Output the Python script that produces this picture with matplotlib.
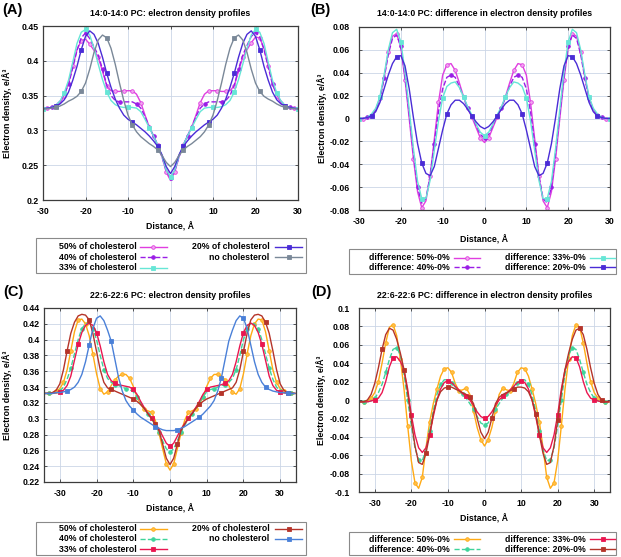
import numpy as np
import matplotlib
matplotlib.use("Agg")
import matplotlib.pyplot as plt
from matplotlib.lines import Line2D
from matplotlib.patches import Rectangle
from matplotlib.ticker import FuncFormatter, MultipleLocator

plt.rcParams['font.family'] = ['Liberation Sans', 'DejaVu Sans']
plt.rcParams['font.weight'] = 'bold'
plt.rcParams['axes.unicode_minus'] = False

# ---------------- data ----------------
x_ab = np.arange(-30, 31)   # distance grid, panels A/B (Angstrom)
x_cd = np.arange(-34, 35)   # distance grid, panels C/D (Angstrom)

# Panel A: 14:0-14:0 PC electron density
a_50 = [0.331, 0.332, 0.333, 0.335, 0.339, 0.350, 0.368, 0.392, 0.416, 0.429, 0.431, 0.424, 0.415, 0.405, 0.385, 0.364,
        0.357, 0.356, 0.356, 0.357, 0.357, 0.357, 0.352, 0.340, 0.322, 0.305, 0.292, 0.279, 0.262, 0.240, 0.228,
        0.240, 0.262, 0.279, 0.292, 0.305, 0.322, 0.340, 0.352, 0.357, 0.357, 0.357, 0.356, 0.356, 0.357, 0.364,
        0.385, 0.405, 0.416, 0.426, 0.434, 0.433, 0.418, 0.393, 0.368, 0.350, 0.339, 0.335, 0.333, 0.332, 0.331]
a_40 = [0.331, 0.332, 0.333, 0.336, 0.342, 0.352, 0.366, 0.390, 0.415, 0.433, 0.440, 0.432, 0.420, 0.408, 0.388, 0.365,
        0.350, 0.343, 0.341, 0.341, 0.341, 0.341, 0.338, 0.332, 0.320, 0.305, 0.292, 0.279, 0.262, 0.242, 0.232,
        0.242, 0.262, 0.279, 0.292, 0.305, 0.320, 0.332, 0.338, 0.341, 0.341, 0.341, 0.341, 0.343, 0.350, 0.365,
        0.388, 0.408, 0.422, 0.435, 0.441, 0.434, 0.416, 0.391, 0.366, 0.352, 0.342, 0.336, 0.333, 0.332, 0.331]
a_33 = [0.331, 0.332, 0.333, 0.336, 0.342, 0.354, 0.372, 0.398, 0.425, 0.441, 0.445, 0.437, 0.418, 0.395, 0.373, 0.355,
        0.343, 0.337, 0.334, 0.333, 0.333, 0.333, 0.332, 0.327, 0.316, 0.304, 0.292, 0.279, 0.263, 0.243, 0.233,
        0.243, 0.263, 0.279, 0.292, 0.304, 0.316, 0.327, 0.332, 0.333, 0.333, 0.333, 0.334, 0.337, 0.343, 0.355,
        0.373, 0.395, 0.418, 0.437, 0.445, 0.441, 0.425, 0.398, 0.372, 0.354, 0.342, 0.336, 0.333, 0.332, 0.331]
a_20 = [0.331, 0.332, 0.333, 0.335, 0.338, 0.344, 0.355, 0.372, 0.392, 0.416, 0.435, 0.443, 0.438, 0.425, 0.405, 0.382,
        0.362, 0.345, 0.332, 0.322, 0.316, 0.312, 0.308, 0.303, 0.298, 0.292, 0.285, 0.277, 0.265, 0.248, 0.238,
        0.248, 0.265, 0.277, 0.285, 0.292, 0.298, 0.303, 0.308, 0.312, 0.316, 0.322, 0.332, 0.345, 0.362, 0.382,
        0.405, 0.425, 0.438, 0.443, 0.435, 0.416, 0.392, 0.372, 0.355, 0.344, 0.338, 0.335, 0.333, 0.332, 0.331]
a_00 = [0.331, 0.331, 0.332, 0.333, 0.335, 0.338, 0.342, 0.345, 0.349, 0.356, 0.368, 0.388, 0.412, 0.430, 0.437, 0.433,
        0.418, 0.395, 0.368, 0.343, 0.322, 0.308, 0.298, 0.291, 0.286, 0.281, 0.277, 0.272, 0.264, 0.254, 0.248,
        0.254, 0.264, 0.272, 0.277, 0.281, 0.286, 0.291, 0.298, 0.308, 0.322, 0.343, 0.368, 0.395, 0.418, 0.433,
        0.437, 0.430, 0.412, 0.388, 0.368, 0.356, 0.349, 0.345, 0.342, 0.338, 0.335, 0.333, 0.332, 0.331, 0.331]

# Panel B: 14:0-14:0 PC differences
b_50 = [0.000, 0.000, 0.001, 0.003, 0.008, 0.018, 0.036, 0.058, 0.072, 0.074, 0.062, 0.034, 0.000, -0.035, -0.064, -0.078,
        -0.072, -0.050, -0.018, 0.014, 0.038, 0.047, 0.048, 0.042, 0.031, 0.019, 0.009, 0.001, -0.008, -0.017, -0.021,
        -0.017, -0.008, 0.001, 0.009, 0.019, 0.031, 0.042, 0.048, 0.047, 0.038, 0.014, -0.018, -0.050, -0.072, -0.078,
        -0.064, -0.035, 0.000, 0.034, 0.062, 0.074, 0.072, 0.058, 0.036, 0.018, 0.008, 0.003, 0.001, 0.000, 0.000]
b_40 = [0.000, 0.000, 0.001, 0.003, 0.007, 0.017, 0.035, 0.056, 0.070, 0.073, 0.063, 0.037, 0.004, -0.030, -0.060, -0.074,
        -0.070, -0.050, -0.022, 0.006, 0.026, 0.036, 0.038, 0.036, 0.028, 0.018, 0.009, 0.002, -0.006, -0.014, -0.017,
        -0.014, -0.006, 0.002, 0.009, 0.018, 0.028, 0.036, 0.038, 0.036, 0.026, 0.006, -0.022, -0.050, -0.070, -0.074,
        -0.060, -0.030, 0.004, 0.037, 0.063, 0.073, 0.070, 0.056, 0.035, 0.017, 0.007, 0.003, 0.001, 0.000, 0.000]
b_33 = [0.000, 0.000, 0.001, 0.004, 0.009, 0.019, 0.038, 0.060, 0.075, 0.078, 0.067, 0.041, 0.008, -0.026, -0.055, -0.070,
        -0.070, -0.054, -0.028, -0.002, 0.018, 0.028, 0.031, 0.032, 0.027, 0.019, 0.010, 0.003, -0.005, -0.012, -0.015,
        -0.012, -0.005, 0.003, 0.010, 0.019, 0.027, 0.032, 0.031, 0.028, 0.018, -0.002, -0.028, -0.054, -0.070, -0.070,
        -0.055, -0.026, 0.008, 0.041, 0.067, 0.078, 0.075, 0.060, 0.038, 0.019, 0.009, 0.004, 0.001, 0.000, 0.000]
b_20 = [0.000, 0.000, 0.001, 0.002, 0.006, 0.014, 0.026, 0.038, 0.048, 0.054, 0.055, 0.046, 0.026, 0.001, -0.022, -0.039,
        -0.048, -0.050, -0.042, -0.026, -0.010, 0.004, 0.012, 0.016, 0.016, 0.013, 0.008, 0.002, -0.003, -0.007, -0.009,
        -0.007, -0.003, 0.002, 0.008, 0.013, 0.016, 0.016, 0.012, 0.004, -0.010, -0.026, -0.042, -0.050, -0.048, -0.039,
        -0.022, 0.001, 0.026, 0.046, 0.055, 0.054, 0.048, 0.038, 0.026, 0.014, 0.006, 0.002, 0.001, 0.000, 0.000]

# Panel C: 22:6-22:6 PC electron density
c_50 = [0.332, 0.332, 0.333, 0.335, 0.338, 0.346, 0.362, 0.386, 0.410, 0.425, 0.426, 0.420, 0.405, 0.382, 0.357, 0.338,
        0.331, 0.334, 0.342, 0.349, 0.354, 0.356, 0.356, 0.351, 0.341, 0.328, 0.318, 0.312, 0.310, 0.308, 0.298, 0.282,
        0.262, 0.243, 0.235,
        0.243, 0.262, 0.282, 0.298, 0.308, 0.310, 0.312, 0.318, 0.328, 0.341, 0.351, 0.356, 0.356, 0.354, 0.349, 0.342,
        0.334, 0.331, 0.338, 0.357, 0.382, 0.405, 0.420, 0.426, 0.425, 0.410, 0.386, 0.362, 0.346, 0.338, 0.335, 0.333,
        0.332, 0.332]
c_40 = [0.332, 0.332, 0.332, 0.333, 0.335, 0.340, 0.350, 0.364, 0.382, 0.400, 0.414, 0.420, 0.421, 0.414, 0.400, 0.380,
        0.362, 0.351, 0.346, 0.343, 0.342, 0.340, 0.338, 0.337, 0.334, 0.328, 0.320, 0.313, 0.306, 0.300, 0.292, 0.283,
        0.272, 0.262, 0.258,
        0.262, 0.272, 0.283, 0.292, 0.300, 0.306, 0.313, 0.320, 0.328, 0.334, 0.337, 0.338, 0.340, 0.342, 0.343, 0.346,
        0.351, 0.362, 0.380, 0.400, 0.414, 0.421, 0.420, 0.414, 0.400, 0.382, 0.364, 0.350, 0.340, 0.335, 0.333, 0.332,
        0.332, 0.332]
c_33 = [0.332, 0.332, 0.332, 0.333, 0.334, 0.336, 0.342, 0.354, 0.374, 0.394, 0.409, 0.418, 0.421, 0.418, 0.409, 0.392,
        0.372, 0.356, 0.348, 0.345, 0.343, 0.342, 0.341, 0.340, 0.337, 0.331, 0.322, 0.314, 0.307, 0.301, 0.294, 0.287,
        0.278, 0.269, 0.265,
        0.269, 0.278, 0.287, 0.294, 0.301, 0.307, 0.314, 0.322, 0.331, 0.337, 0.340, 0.341, 0.342, 0.343, 0.345, 0.348,
        0.356, 0.372, 0.392, 0.409, 0.418, 0.421, 0.418, 0.409, 0.394, 0.374, 0.354, 0.342, 0.336, 0.334, 0.333, 0.332,
        0.332, 0.332]
c_20 = [0.332, 0.332, 0.333, 0.336, 0.344, 0.362, 0.386, 0.408, 0.422, 0.430, 0.432, 0.431, 0.425, 0.408, 0.385, 0.362,
        0.346, 0.339, 0.337, 0.335, 0.333, 0.331, 0.329, 0.327, 0.325, 0.322, 0.318, 0.313, 0.306, 0.300, 0.293, 0.285,
        0.268, 0.250, 0.242,
        0.250, 0.268, 0.285, 0.293, 0.300, 0.306, 0.313, 0.318, 0.322, 0.325, 0.327, 0.329, 0.331, 0.333, 0.335, 0.337,
        0.339, 0.346, 0.362, 0.385, 0.408, 0.425, 0.431, 0.432, 0.430, 0.422, 0.408, 0.386, 0.362, 0.344, 0.336, 0.333,
        0.332, 0.332]
c_00 = [0.332, 0.332, 0.332, 0.333, 0.333, 0.334, 0.335, 0.337, 0.340, 0.346, 0.356, 0.372, 0.393, 0.414, 0.427, 0.430,
        0.424, 0.412, 0.398, 0.375, 0.352, 0.335, 0.323, 0.316, 0.311, 0.306, 0.302, 0.299, 0.296, 0.293, 0.290, 0.288,
        0.286, 0.285, 0.285,
        0.285, 0.286, 0.288, 0.290, 0.293, 0.296, 0.299, 0.302, 0.306, 0.311, 0.316, 0.323, 0.335, 0.352, 0.375, 0.398,
        0.412, 0.424, 0.430, 0.427, 0.414, 0.393, 0.372, 0.356, 0.346, 0.340, 0.337, 0.335, 0.334, 0.333, 0.333, 0.332,
        0.332, 0.332]

# Panel D: 22:6-22:6 PC differences
d_50 = [-0.002, -0.002, -0.001, 0.002, 0.008, 0.020, 0.040, 0.062, 0.079, 0.082, 0.070, 0.045, 0.012, -0.028, -0.066,
        -0.090, -0.096, -0.084, -0.052, -0.024, -0.004, 0.012, 0.026, 0.034, 0.035, 0.030, 0.018, 0.010, 0.011, 0.013,
        0.006, -0.012, -0.030, -0.043, -0.050,
        -0.043, -0.030, -0.012, 0.006, 0.013, 0.011, 0.010, 0.018, 0.030, 0.035, 0.034, 0.026, 0.012, -0.004, -0.024,
        -0.052, -0.084, -0.096, -0.090, -0.066, -0.028, 0.012, 0.045, 0.070, 0.082, 0.079, 0.062, 0.040, 0.020, 0.008,
        0.002, -0.001, -0.002, -0.002]
d_40 = [-0.002, -0.002, -0.002, -0.001, 0.002, 0.008, 0.017, 0.030, 0.044, 0.055, 0.057, 0.049, 0.028, 0.000, -0.028,
        -0.052, -0.065, -0.066, -0.054, -0.034, -0.012, 0.006, 0.017, 0.022, 0.022, 0.019, 0.014, 0.010, 0.006, 0.002,
        -0.004, -0.010, -0.018, -0.025, -0.027,
        -0.025, -0.018, -0.010, -0.004, 0.002, 0.006, 0.010, 0.014, 0.019, 0.022, 0.022, 0.017, 0.006, -0.012, -0.034,
        -0.054, -0.066, -0.065, -0.052, -0.028, 0.000, 0.028, 0.049, 0.057, 0.055, 0.044, 0.030, 0.017, 0.008, 0.002,
        -0.001, -0.002, -0.002, -0.002]
d_33 = [-0.002, -0.002, -0.002, -0.001, 0.000, 0.002, 0.008, 0.020, 0.036, 0.046, 0.047, 0.042, 0.033, 0.012, -0.016,
        -0.038, -0.052, -0.057, -0.052, -0.038, -0.018, 0.000, 0.012, 0.019, 0.021, 0.019, 0.015, 0.011, 0.007, 0.004,
        0.000, -0.006, -0.013, -0.018, -0.020,
        -0.018, -0.013, -0.006, 0.000, 0.004, 0.007, 0.011, 0.015, 0.019, 0.021, 0.019, 0.012, 0.000, -0.018, -0.038,
        -0.052, -0.057, -0.052, -0.038, -0.016, 0.012, 0.033, 0.042, 0.047, 0.046, 0.036, 0.020, 0.008, 0.002, 0.000,
        -0.001, -0.002, -0.002, -0.002]
d_20 = [-0.002, -0.002, 0.000, 0.006, 0.018, 0.035, 0.055, 0.071, 0.078, 0.076, 0.066, 0.051, 0.033, 0.008, -0.022,
        -0.050, -0.068, -0.070, -0.058, -0.038, -0.015, 0.000, 0.009, 0.013, 0.014, 0.014, 0.012, 0.010, 0.008, 0.006,
        0.003, -0.004, -0.020, -0.035, -0.042,
        -0.035, -0.020, -0.004, 0.003, 0.006, 0.008, 0.010, 0.012, 0.014, 0.014, 0.013, 0.009, 0.000, -0.015, -0.038,
        -0.058, -0.070, -0.068, -0.050, -0.022, 0.008, 0.033, 0.051, 0.066, 0.076, 0.078, 0.071, 0.055, 0.035, 0.018,
        0.006, 0.000, -0.002, -0.002]

labels_ac = ['50% of cholesterol', '40% of cholesterol', '33% of cholesterol',
             '20% of cholesterol', 'no cholesterol']
labels_bd = ['difference: 50%-0%', 'difference: 40%-0%',
             'difference: 33%-0%', 'difference: 20%-0%']
titles = ['14:0-14:0 PC: electron density profiles',
          '14:0-14:0 PC: difference in electron density profiles',
          '22:6-22:6 PC: electron density profiles',
          '22:6-22:6 PC: difference in electron density profiles']

# ---------------- styles ----------------
st_ab = [dict(color='#e03ee0', ls='-', marker='o', mfc='#f0a8f0', me=(1, 2)),
         dict(color='#9a1de6', ls='--', marker='o', mfc='#9a1de6', me=(2, 4)),
         dict(color='#66e6d6', ls='-', marker='s', mfc='#66e6d6', me=(0, 5)),
         dict(color='#4a2cd6', ls='-', marker='s', mfc='#4a2cd6', me=(3, 6)),
         dict(color='#7a8898', ls='-', marker='s', mfc='#7a8898', me=(3, 6))]
st_cd = [dict(color='#ffaa14', ls='-', marker='o', mfc='#ffc04a', me=(1, 2)),
         dict(color='#3ed49a', ls='--', marker='o', mfc='#3ed49a', me=(1, 3)),
         dict(color='#ea1650', ls='-', marker='s', mfc='#ea1650', me=(4, 5)),
         dict(color='#b5342a', ls='-', marker='s', mfc='#b5342a', me=(6, 6)),
         dict(color='#4a80d8', ls='-', marker='s', mfc='#4a80d8', me=(6, 6))]

W, H = 621, 557
FS = 6.3
LW = 1.0
MS = 2.6
fig = plt.figure(figsize=(W / 100, H / 100), dpi=100)


def fbox(l, t, r, b):
    return [l / W, 1 - b / H, (r - l) / W, (b - t) / H]


def fmt(v, pos):
    v = round(v, 6)
    if v == 0:
        v = 0.0
    return f'{v:g}'


def style_axes(ax, xlim, ylim, ystep, ypad, ylab_x, xlab_y):
    ax.set_xlim(*xlim)
    ax.set_ylim(*ylim)
    ax.xaxis.set_major_locator(MultipleLocator(10))
    ax.yaxis.set_major_locator(MultipleLocator(ystep))
    ax.xaxis.set_major_formatter(FuncFormatter(fmt))
    ax.yaxis.set_major_formatter(FuncFormatter(fmt))
    ax.grid(True, color='#cbd6e6', lw=0.6)
    ax.set_axisbelow(True)
    for s in ax.spines.values():
        s.set_color('#3c3c3c')
        s.set_linewidth(0.9)
    ax.tick_params(axis='both', direction='in', length=2.5, width=0.6, colors='#3c3c3c',
                   labelcolor='black', labelsize=FS, top=True, right=True)
    ax.tick_params(axis='x', pad=5)
    ax.tick_params(axis='y', pad=ypad)
    ax.set_xlabel('Distance, Å', fontsize=FS, fontweight='bold')
    ax.set_ylabel('Electron density, e/Å³', fontsize=FS, fontweight='bold')
    ax.yaxis.set_label_coords(ylab_x, 0.5)
    ax.xaxis.set_label_coords(0.5, xlab_y)


def draw_legend(box, rows, cols, entries):
    l, t, r, b = box
    fig.add_artist(Rectangle((l / W, 1 - b / H), (r - l) / W, (b - t) / H,
                             transform=fig.transFigure, fill=False,
                             ec='#8a8a8a', lw=0.8))
    for (ci, ri, text, st) in entries:
        tx, s0, s1 = cols[ci]
        y = 1 - rows[ri] / H
        fig.text(tx / W, y, text, ha='right', va='center', fontsize=FS, fontweight='bold')
        fig.add_artist(Line2D([s0 / W, s1 / W], [y, y], transform=fig.transFigure,
                              color=st['color'], ls=st['ls'], lw=LW))
        fig.add_artist(Line2D([(s0 + s1) / 2 / W], [y], transform=fig.transFigure,
                              color=st['color'], marker=st['marker'], ms=MS,
                              mfc=st['mfc'], mec=st['color'], mew=0.6, ls='none'))


def plot_series(ax, x, ys, styles, labels):
    for y, st, lab in zip(ys, styles, labels):
        ax.plot(x, y, color=st['color'], ls=st['ls'], lw=LW, marker=st['marker'],
                ms=MS, mfc=st['mfc'], mec=st['color'], mew=0.6, markevery=st['me'],
                label=lab)


# ---- Panel A ----
axA = fig.add_axes(fbox(43, 26, 298, 200))
plot_series(axA, x_ab, [a_50, a_40, a_33, a_20, a_00], st_ab, labels_ac)
style_axes(axA, (-30, 30), (0.2, 0.45), 0.05, 3, -0.12, -0.126)
axA.set_title(titles[0], fontsize=FS, fontweight='bold', pad=7)

# ---- Panel B ----
axB = fig.add_axes(fbox(359, 27, 610, 210))
plot_series(axB, x_ab, [b_50, b_40, b_33, b_20], st_ab[:4], labels_bd)
style_axes(axB, (-30, 30), (-0.08, 0.08), 0.02, 6.5, -0.129, -0.139)
axB.set_title(titles[1], fontsize=FS, fontweight='bold', pad=8)

# ---- Panel C ----
axC = fig.add_axes(fbox(44, 308, 296, 482))
plot_series(axC, x_cd, [c_50, c_40, c_33, c_20, c_00], st_cd, labels_ac)
style_axes(axC, (-34.3, 34.3), (0.22, 0.44), 0.02, 3, -0.125, -0.129)
axC.set_title(titles[2], fontsize=FS, fontweight='bold', pad=7)

# ---- Panel D ----
axD = fig.add_axes(fbox(359, 308, 610, 492))
plot_series(axD, x_cd, [d_50, d_40, d_33, d_20], st_cd[:4], labels_bd)
style_axes(axD, (-34.3, 34.3), (-0.1, 0.1), 0.02, 6.5, -0.131, -0.12)
axD.set_title(titles[3], fontsize=FS, fontweight='bold', pad=7)

# panel letters
for txt, px, py in [('(A)', 12, 10), ('(B)', 320, 10), ('(C)', 13, 292), ('(D)', 321, 292)]:
    fig.text(px / W, 1 - py / H, txt, fontsize=10.5, fontweight='bold', ha='center', va='center')

# legends
cols_ac = [(136.7, 139.5, 166.5), (269.3, 275, 302)]
cols_bd = [(450, 454, 480), (586, 590, 615)]
draw_legend((36, 238, 306, 273), [246.7, 257.3, 267.7], cols_ac,
            [(0, 0, labels_ac[0], st_ab[0]), (0, 1, labels_ac[1], st_ab[1]),
             (0, 2, labels_ac[2], st_ab[2]), (1, 0, labels_ac[3], st_ab[3]),
             (1, 1, labels_ac[4], st_ab[4])])
draw_legend((349, 249, 616, 274), [257.5, 267], cols_bd,
            [(0, 0, labels_bd[0], st_ab[0]), (0, 1, labels_bd[1], st_ab[1]),
             (1, 0, labels_bd[2], st_ab[2]), (1, 1, labels_bd[3], st_ab[3])])
draw_legend((36, 522, 306, 555), [528.5, 538.5, 549], cols_ac,
            [(0, 0, labels_ac[0], st_cd[0]), (0, 1, labels_ac[1], st_cd[1]),
             (0, 2, labels_ac[2], st_cd[2]), (1, 0, labels_ac[3], st_cd[3]),
             (1, 1, labels_ac[4], st_cd[4])])
draw_legend((349, 532, 616, 555), [539, 549.3], cols_bd,
            [(0, 0, labels_bd[0], st_cd[0]), (0, 1, labels_bd[1], st_cd[1]),
             (1, 0, labels_bd[2], st_cd[2]), (1, 1, labels_bd[3], st_cd[3])])

fig.savefig('out.png', dpi=100)
